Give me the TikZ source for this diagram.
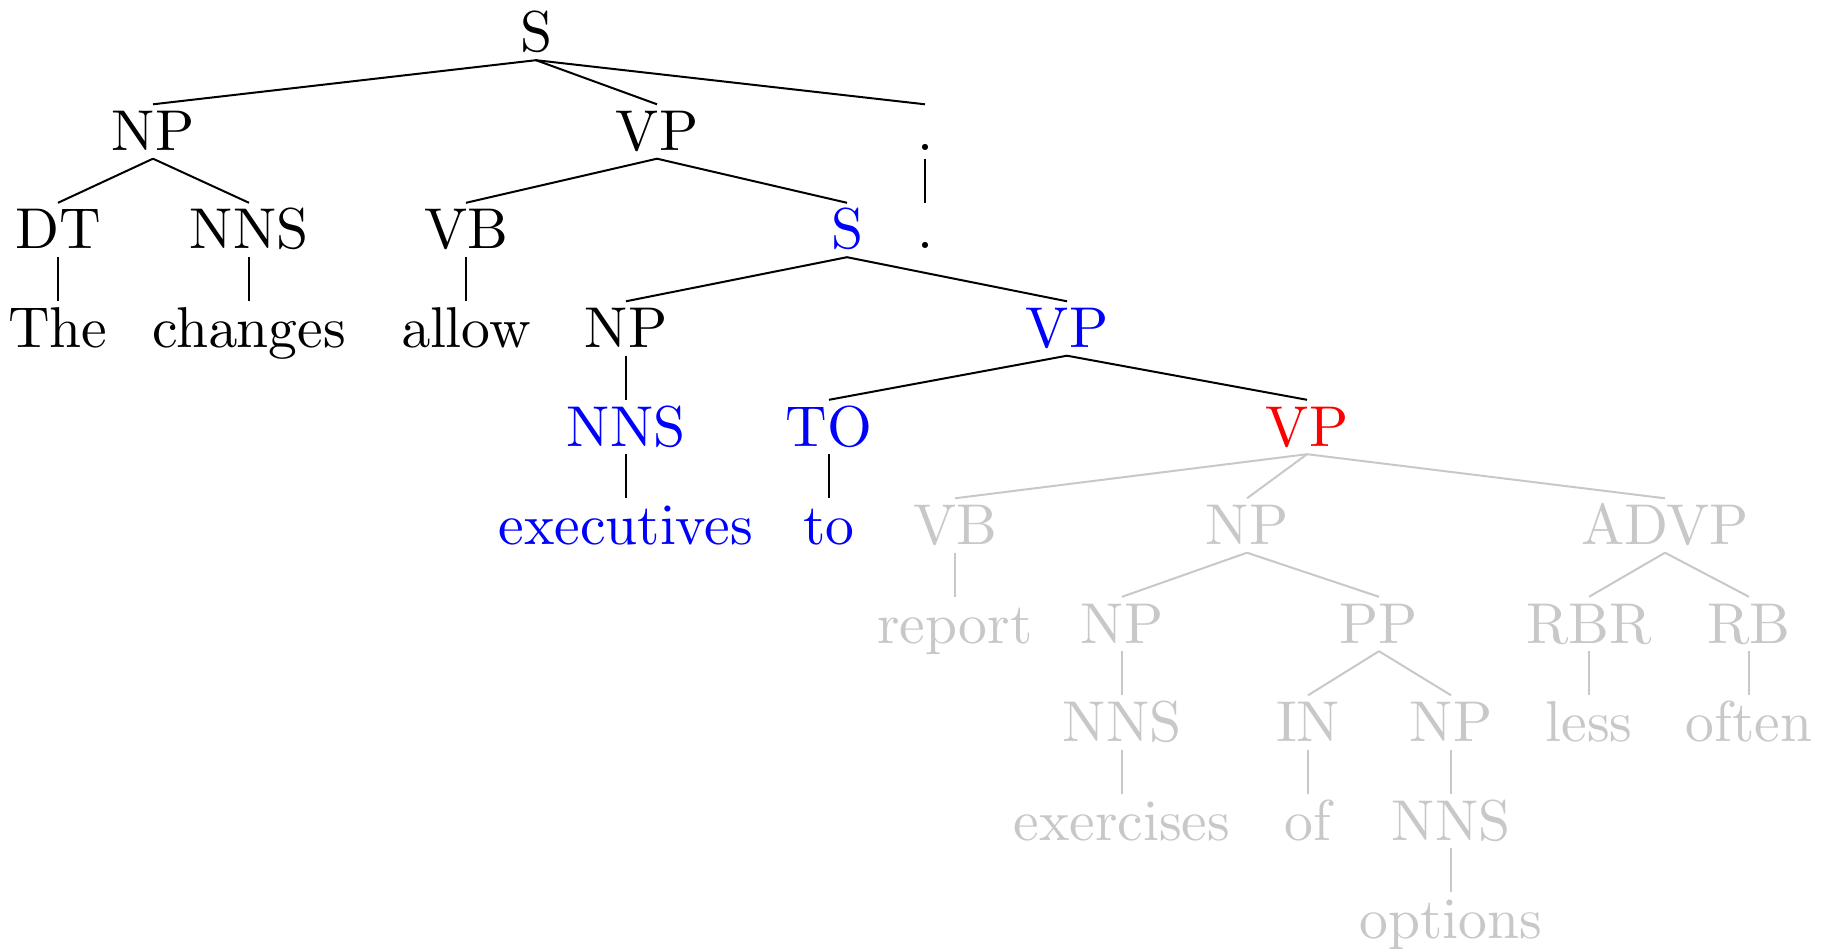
\documentclass[tikz,border=0pt]{standalone}
\font\treefont=cmr10 at 57.6pt
\begin{document}
\begin{tikzpicture}[x=1pt,y=-1pt,
  lab/.style={anchor=base, inner xsep=0pt, inner ysep=8pt, text height=38pt, text depth=0pt, font=\treefont},
  blk/.style={lab, text=black},
  blu/.style={lab, text=blue},
  rd/.style={lab, text=red},
  gry/.style={lab, text=lightgr},
  edge/.style={draw=black, line width=2pt},
  gedge/.style={draw=lightgr, line width=2pt}]
\definecolor{lightgr}{RGB}{200,200,200}
\useasboundingbox (0,0) rectangle (1823,949);
% row 0
\node[blk] (s0) at (536,52) {S};
% row 1
\node[blk] (np1) at (153,150.5) {NP};
\node[blk] (vp1) at (657,150.5) {VP};
\node[blk] (dot1) at (925,150.5) {.};
% row 2
\node[blk] (dt) at (58,249) {DT};
\node[blk] (nns1) at (249,249) {NNS};
\node[blk] (vb1) at (466,249) {VB};
\node[blu] (s2) at (847,249) {S};
\node[blk] (dot2) at (925,249) {.};
% row 3
\node[blk] (the) at (58,347.5) {The};
\node[blk] (changes) at (249,347.5) {changes};
\node[blk] (allow) at (466,347.5) {allow};
\node[blk] (np3) at (626,347.5) {NP};
\node[blu] (vp3) at (1067,347.5) {VP};
% row 4
\node[blu] (nns4) at (626,446) {NNS};
\node[blu] (to4) at (829,446) {TO};
\node[rd] (vp4) at (1307,446) {VP};
% row 5
\node[blu] (exec) at (626,544.5) {executives};
\node[blu] (to5) at (829,544.5) {to};
\node[gry] (vb5) at (955,544.5) {VB};
\node[gry] (np5) at (1247,544.5) {NP};
\node[gry] (advp) at (1665,544.5) {ADVP};
% row 6
\node[gry] (report) at (955,643) {report};
\node[gry] (np6) at (1122,643) {NP};
\node[gry] (pp6) at (1379,643) {PP};
\node[gry] (rbr) at (1589,643) {RBR};
\node[gry] (rb) at (1749,643) {RB};
% row 7
\node[gry] (nns7) at (1122,741.5) {NNS};
\node[gry] (in7) at (1308,741.5) {IN};
\node[gry] (np7) at (1451,741.5) {NP};
\node[gry] (less) at (1589,741.5) {less};
\node[gry] (often) at (1749,741.5) {often};
% row 8
\node[gry] (exer) at (1122,840) {exercises};
\node[gry] (of8) at (1308,840) {of};
\node[gry] (nns8) at (1451,840) {NNS};
% row 9
\node[gry] (options) at (1451,938.5) {options};
% edges
\draw[edge] (s0.south) -- (np1.north);
\draw[edge] (s0.south) -- (vp1.north);
\draw[edge] (s0.south) -- (dot1.north);
\draw[edge] (np1.south) -- (dt.north);
\draw[edge] (np1.south) -- (nns1.north);
\draw[edge] (vp1.south) -- (vb1.north);
\draw[edge] (vp1.south) -- (s2.north);
\draw[edge] (dot1.south) -- (dot2.north);
\draw[edge] (dt.south) -- (the.north);
\draw[edge] (nns1.south) -- (changes.north);
\draw[edge] (vb1.south) -- (allow.north);
\draw[edge] (s2.south) -- (np3.north);
\draw[edge] (s2.south) -- (vp3.north);
\draw[edge] (np3.south) -- (nns4.north);
\draw[edge] (vp3.south) -- (to4.north);
\draw[edge] (vp3.south) -- (vp4.north);
\draw[edge] (nns4.south) -- (exec.north);
\draw[edge] (to4.south) -- (to5.north);
\draw[gedge] (vp4.south) -- (vb5.north);
\draw[gedge] (vp4.south) -- (np5.north);
\draw[gedge] (vp4.south) -- (advp.north);
\draw[gedge] (vb5.south) -- (report.north);
\draw[gedge] (np5.south) -- (np6.north);
\draw[gedge] (np5.south) -- (pp6.north);
\draw[gedge] (advp.south) -- (rbr.north);
\draw[gedge] (advp.south) -- (rb.north);
\draw[gedge] (np6.south) -- (nns7.north);
\draw[gedge] (pp6.south) -- (in7.north);
\draw[gedge] (pp6.south) -- (np7.north);
\draw[gedge] (rbr.south) -- (less.north);
\draw[gedge] (rb.south) -- (often.north);
\draw[gedge] (nns7.south) -- (exer.north);
\draw[gedge] (in7.south) -- (of8.north);
\draw[gedge] (np7.south) -- (nns8.north);
\draw[gedge] (nns8.south) -- (options.north);
\end{tikzpicture}
\end{document}
